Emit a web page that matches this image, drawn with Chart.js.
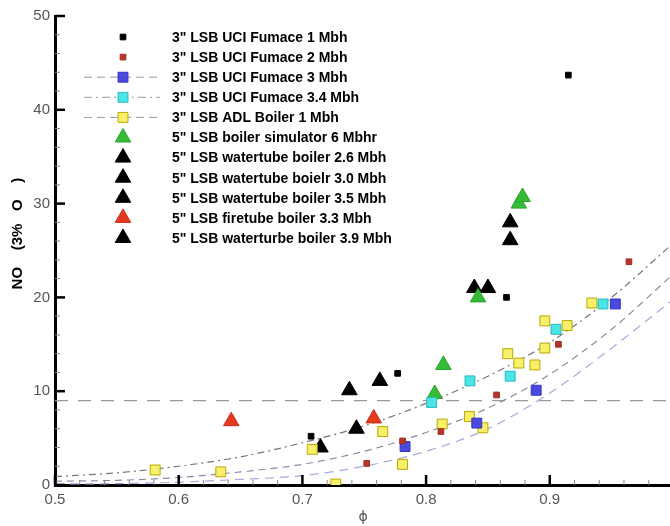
<!DOCTYPE html>
<html>
<head>
<meta charset="utf-8">
<script src="https://cdn.jsdelivr.net/npm/chart.js@4.4.1/dist/chart.umd.min.js"></script>
<style>
  html, body { margin: 0; padding: 0; background: #fff; overflow: hidden; }
  canvas { display: block; }
</style>
</head>
<body>
<!-- the plot runs past the right edge of the page, as in the source figure -->
<canvas id="noxChart" width="681" height="526"></canvas>
<script>
// equivalence ratio / NOx readings, one pair of arrays per burner run
var uci1X = [0.707, 0.777, 0.865, 0.915];
var uci1Y = [5.2, 11.9, 20.0, 43.7];
var uci2X = [0.752, 0.781, 0.812, 0.857, 0.907, 0.964];
var uci2Y = [2.3, 4.7, 5.7, 9.6, 15.0, 23.8];
var uci3X = [0.783, 0.841, 0.889, 0.953];
var uci3Y = [4.1, 6.6, 10.1, 19.3];
var uci34X = [0.8045, 0.8355, 0.868, 0.905, 0.943];
var uci34Y = [8.8, 11.1, 11.6, 16.6, 19.3];
var adlX = [0.581, 0.634, 0.708, 0.727, 0.765, 0.781, 0.813, 0.835, 0.846, 0.866, 0.875, 0.888, 0.896, 0.896, 0.914, 0.934];
var adlY = [1.6, 1.4, 3.8, 0.1, 5.7, 2.2, 6.5, 7.3, 6.1, 14.0, 13.0, 12.8, 14.6, 17.5, 17.0, 19.4];
var simX = [0.807, 0.814, 0.842, 0.875, 0.878];
var simY = [9.7, 12.8, 20.0, 30.0, 30.7];
var wt26X = [0.7146, 0.7437];
var wt26Y = [4.0, 6.0];
var wt30X = [0.738, 0.7626];
var wt30Y = [10.1, 11.1];
var wt35X = [0.839, 0.850];
var wt35Y = [21.0, 21.0];
var fireX = [0.6425, 0.7577];
var fireY = [6.8, 7.1];
var wt39X = [0.868, 0.868];
var wt39Y = [28.0, 26.1];

// correlation curves and the 9 ppm limit
var fitX = [0.5, 0.55, 0.6, 0.65, 0.7, 0.75, 0.8, 0.85, 0.9, 0.95, 1.0];
var fitUpper = [0.9, 1.3, 2.0, 3.0, 4.5, 6.3, 8.7, 11.6, 15.2, 20.0, 25.8];
var fitMiddle = [0.4, 0.5, 0.8, 1.4, 2.2, 3.6, 5.6, 8.2, 11.8, 16.6, 22.5];
var fitLower = [0.1, 0.15, 0.3, 0.6, 1.0, 2.0, 3.6, 6.0, 9.8, 14.6, 19.8];
var limitX = [0.5, 1.0];
var limitY = [9, 9];

var xTicks = [0.5, 0.6, 0.7, 0.8, 0.9];
var yTicks = [0, 10, 20, 30, 40, 50];
var yTitle = 'NO    (3%   O    )';

function pairs(xs, ys) {
    var out = [];
    for (var i = 0; i < xs.length; i++) out.push({ x: xs[i], y: ys[i] });
    return out;
}

function points(label, xs, ys, style, fill, border, radius, dash) {
    return {
        label: label,
        data: pairs(xs, ys),
        showLine: false,
        pointStyle: style,
        pointRadius: radius,
        pointHoverRadius: radius,
        backgroundColor: fill,
        borderColor: border,
        pointBorderWidth: 1,
        legendDash: dash || null,
        order: 0
    };
}

function curve(xs, ys, color, dash) {
    return {
        data: pairs(xs, ys),
        showLine: true,
        fit: true,
        pointRadius: 0,
        borderColor: color,
        borderWidth: 1.2,
        borderDash: dash,
        cubicInterpolationMode: 'monotone',
        fill: false,
        order: 5
    };
}

var datasets = [
    points('3" LSB UCI Fumace 1 Mbh', uci1X, uci1Y, 'rect', '#000000', '#000000', 4),
    points('3" LSB UCI Fumace 2 Mbh', uci2X, uci2Y, 'rect', '#b5352a', '#a02c22', 4),
    points('3" LSB UCI Fumace 3 Mbh', uci3X, uci3Y, 'rect', '#4a4ae0', '#3434b8', 7, [8, 5]),
    points('3" LSB UCI Fumace 3.4 Mbh', uci34X, uci34Y, 'rect', '#4ae6e6', '#2fb6c4', 7, [8, 4, 2, 4]),
    points('3" LSB ADL Boiler 1 Mbh', adlX, adlY, 'rect', '#f7f06a', '#b9a900', 7, [8, 5]),
    points('5" LSB boiler simulator 6 Mbhr', simX, simY, 'triangle', '#36bb36', '#2aa42a', 9),
    points('5" LSB watertube boiler 2.6 Mbh', wt26X, wt26Y, 'triangle', '#000000', '#000000', 9),
    points('5" LSB watertube boielr 3.0 Mbh', wt30X, wt30Y, 'triangle', '#000000', '#000000', 9),
    points('5" LSB watertube boiler 3.5 Mbh', wt35X, wt35Y, 'triangle', '#000000', '#000000', 9),
    points('5" LSB firetube boiler 3.3 Mbh', fireX, fireY, 'triangle', '#e2391f', '#cc2e18', 9),
    points('5" LSB waterturbe boiler 3.9 Mbh', wt39X, wt39Y, 'triangle', '#000000', '#000000', 9),
    curve(fitX, fitUpper, '#777777', [7, 4, 2, 4]),
    curve(fitX, fitMiddle, '#8a8aa8', [7, 5]),
    curve(fitX, fitLower, '#a9a9e0', [9, 6]),
    curve(limitX, limitY, '#9a9a9a', [13, 10])
];

// inward tick marks, the y title and the in-plot legend
var framePlugin = {
    id: 'frame',
    afterDatasetsDraw: function (chart) {
        var ctx = chart.ctx;
        var xs = chart.scales.x, ys = chart.scales.y;
        var area = chart.chartArea;
        ctx.save();
        var v, px, major;
        for (v = 0.5; v <= 1.0001; v += 0.02) {
            px = xs.getPixelForValue(v);
            major = Math.abs(v * 10 - Math.round(v * 10)) < 1e-6;
            ctx.beginPath();
            ctx.strokeStyle = major ? '#000' : '#888';
            ctx.lineWidth = major ? 2.5 : 1;
            ctx.moveTo(px, area.bottom);
            ctx.lineTo(px, area.bottom - (major ? 10 : 5));
            ctx.stroke();
        }
        for (v = 0; v <= 50; v += 2) {
            px = ys.getPixelForValue(v);
            major = v % 10 === 0;
            ctx.beginPath();
            ctx.strokeStyle = major ? '#000' : '#888';
            ctx.lineWidth = major ? 2.5 : 1;
            ctx.moveTo(area.left, px);
            ctx.lineTo(area.left + (major ? 10 : 5), px);
            ctx.stroke();
        }

        // y title sits a bit above the middle of the axis
        ctx.save();
        ctx.translate(18, ys.getPixelForValue(26.8));
        ctx.rotate(-Math.PI / 2);
        ctx.font = 'bold 15px "Liberation Sans", Arial, sans-serif';
        ctx.fillStyle = '#000';
        ctx.textAlign = 'center';
        ctx.textBaseline = 'middle';
        ctx.fillText(yTitle, 0, 0);
        ctx.restore();

        var row = 0;
        ctx.font = 'bold 14px "Liberation Sans", Arial, sans-serif';
        ctx.textBaseline = 'middle';
        ctx.textAlign = 'left';
        chart.data.datasets.forEach(function (ds) {
            if (ds.fit) return;
            var y = 37 + row * 20.1;
            var mx = 123;
            if (ds.legendDash) {
                ctx.beginPath();
                ctx.setLineDash(ds.legendDash);
                ctx.strokeStyle = '#9a9a9a';
                ctx.lineWidth = 1;
                ctx.moveTo(84, y);
                ctx.lineTo(160, y);
                ctx.stroke();
                ctx.setLineDash([]);
            }
            ctx.fillStyle = ds.backgroundColor;
            ctx.strokeStyle = ds.borderColor;
            ctx.lineWidth = 1;
            Chart.helpers.drawPoint(ctx, {
                pointStyle: ds.pointStyle,
                radius: ds.pointRadius,
                rotation: 0,
                borderWidth: 1
            }, mx, y);
            ctx.fillStyle = '#000';
            ctx.fillText(ds.label, 172, y + 1);
            row++;
        });
        ctx.restore();
    }
};

var ctx = document.getElementById('noxChart');
var chart = new Chart(ctx, {
    type: 'scatter',
    data: { datasets: datasets },
    plugins: [framePlugin],
    options: {
        responsive: false,
        animation: false,
        devicePixelRatio: 1,
        layout: { padding: { top: 16, right: 0, left: 0, bottom: 0 } },
        plugins: {
            legend: { display: false },
            tooltip: { enabled: false }
        },
        scales: {
            x: {
                type: 'linear',
                min: 0.5,
                max: 0.998,
                afterBuildTicks: function (scale) {
                    scale.ticks = xTicks.map(function (v) { return { value: v }; });
                },
                afterFit: function (scale) { scale.height = 41; },
                grid: { display: false, drawTicks: false },
                border: { display: true, color: '#000', width: 3 },
                ticks: {
                    padding: 6,
                    color: '#555',
                    font: { family: '"Liberation Sans", Arial, sans-serif', size: 15 },
                    callback: function (v) { return v.toFixed(1); }
                },
                title: {
                    display: true,
                    text: 'ϕ',
                    color: '#555',
                    padding: { top: 0, bottom: 0 },
                    font: { family: '"DejaVu Sans", sans-serif', size: 14 }
                }
            },
            y: {
                type: 'linear',
                min: 0,
                max: 50,
                afterBuildTicks: function (scale) {
                    scale.ticks = yTicks.map(function (v) { return { value: v }; });
                },
                afterFit: function (scale) { scale.width = 55; },
                grid: { display: false, drawTicks: false },
                border: { display: true, color: '#000', width: 3 },
                ticks: {
                    padding: 5,
                    color: '#555',
                    font: { family: '"Liberation Sans", Arial, sans-serif', size: 15 }
                }
            }
        }
    }
});
</script>
</body>
</html>
